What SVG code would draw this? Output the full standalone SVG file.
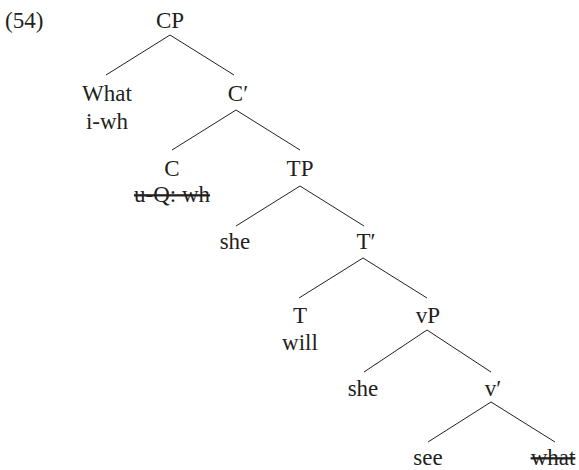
<svg xmlns="http://www.w3.org/2000/svg" width="579" height="470" viewBox="0 0 579 470">
  <style>
    text { font-family: "Liberation Serif", "DejaVu Serif", serif; font-size: 23px; fill: #231f20; text-anchor: middle; }
    .num { text-anchor: start; }
    .del { text-decoration: line-through; }
    #edges line { stroke: #231f20; stroke-width: 1; }
  </style>
  <rect width="579" height="470" fill="#ffffff"/>

  <text class="num" x="5" y="28">(54)</text>

  <!-- branches -->
  <g id="edges">
    <line x1="170" y1="35" x2="106" y2="75"/>
    <line x1="170" y1="35" x2="234" y2="75"/>
    <line x1="236" y1="110" x2="172" y2="150"/>
    <line x1="236" y1="110" x2="300" y2="150"/>
    <line x1="300" y1="186" x2="236" y2="226"/>
    <line x1="300" y1="186" x2="364" y2="226"/>
    <line x1="363" y1="258" x2="299" y2="298"/>
    <line x1="363" y1="258" x2="427" y2="298"/>
    <line x1="427" y1="330" x2="364" y2="372"/>
    <line x1="427" y1="330" x2="491" y2="372"/>
    <line x1="491" y1="402" x2="428" y2="442"/>
    <line x1="491" y1="402" x2="555" y2="442"/>
  </g>

  <g id="cp"><text x="170" y="28">CP</text></g>
  <g id="what"><text x="107" y="101">What</text><text x="107" y="129">i-wh</text></g>
  <g id="cbar"><text x="238" y="101">C′</text></g>
  <g id="c"><text x="172" y="176">C</text><text class="del" x="172" y="202">u-Q: wh</text></g>
  <g id="tp"><text x="300" y="176">TP</text></g>
  <g id="she-spec"><text x="235" y="249">she</text></g>
  <g id="tbar"><text x="366" y="249">T′</text></g>
  <g id="t"><text x="300" y="323">T</text><text x="300" y="350">will</text></g>
  <g id="vp"><text x="428" y="323">vP</text></g>
  <g id="she-base"><text x="363" y="396">she</text></g>
  <g id="vbar"><text x="493" y="396">v′</text></g>
  <g id="see"><text x="428" y="465">see</text></g>
  <g id="what-copy"><text class="del" x="553" y="465">what</text></g>
</svg>
